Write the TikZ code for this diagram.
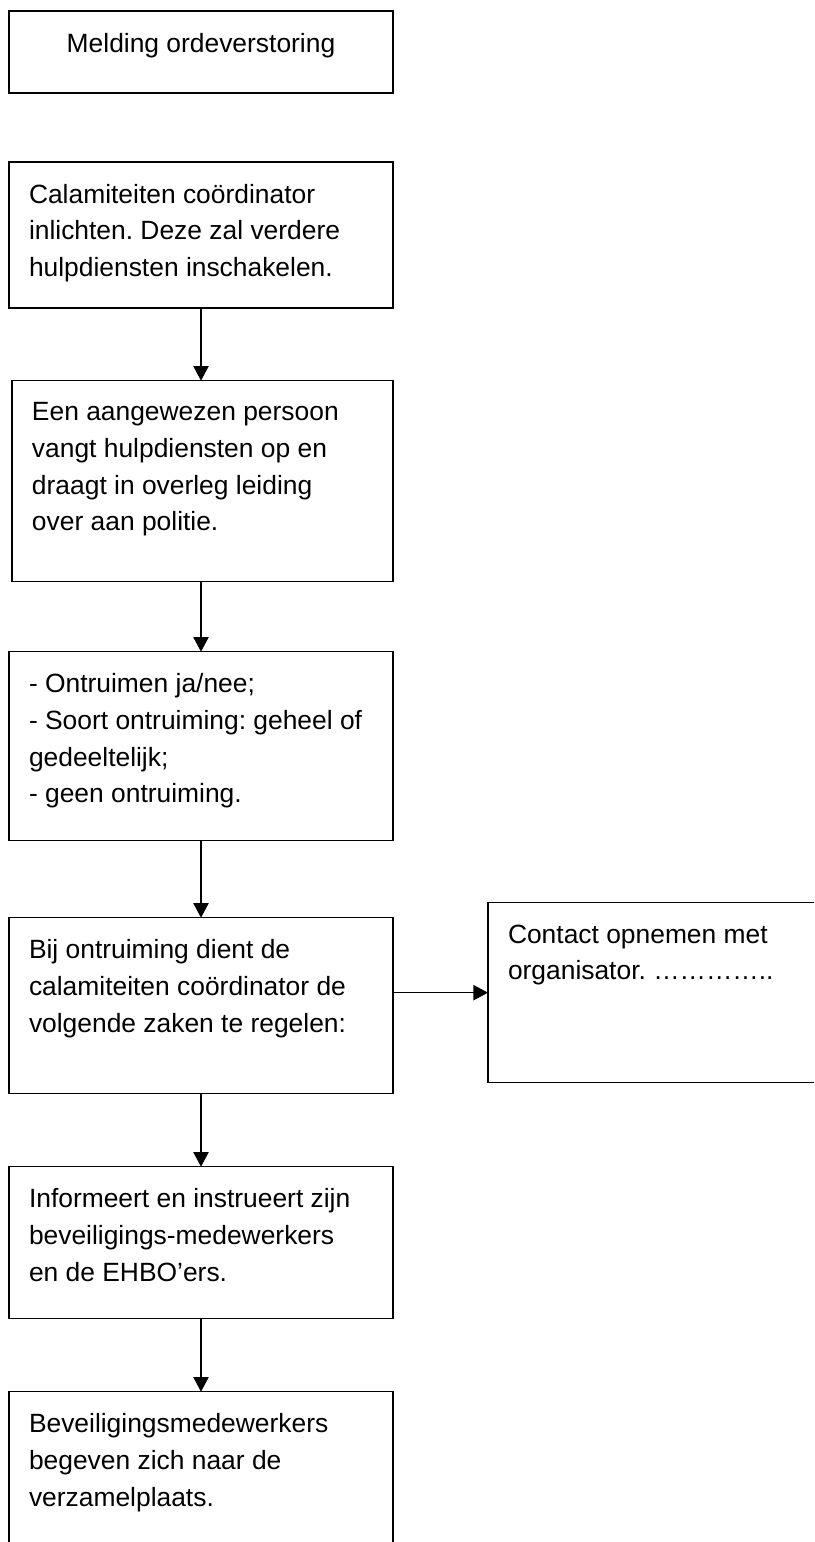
\documentclass[tikz,border=0pt]{standalone}
\usepackage{fontspec}
\setmainfont{Liberation Sans}
\usepackage{tikz}
\usetikzlibrary{arrows.meta,positioning}
\usepackage{xcolor}
\definecolor{lineblack}{RGB}{0,0,0}
\definecolor{pagewhite}{RGB}{255,255,255}
\frenchspacing

\newcommand{\boxfont}{\fontsize{19.8pt}{27.5pt}\selectfont}
% box body: [width], height, text (top aligned, left indent)
\newcommand{\flowtext}[3][288pt]{\parbox[t][#2][t]{#1}{\raggedright\leftskip=15pt #3}}

\begin{document}
\begin{tikzpicture}[
  box/.style={rectangle, draw=lineblack, line width=1.1pt, inner xsep=0pt, inner ysep=16.5pt, outer sep=0pt, font=\boxfont},
  arr/.style={-{Triangle[length=11pt,width=11.5pt]}, line width=1.1pt, draw=lineblack}
]
\path[use as bounding box, fill=pagewhite] (0,0) rectangle (610.5pt,-1156.5pt);
\clip (0,0) rectangle (610.5pt,-1156.5pt);

\node[box, anchor=north west] (meld) at (6.75pt,-8.25pt)
  {\parbox[t][28.5pt][t]{288pt}{\centering Melding ordeverstoring}};
\node[box, below=51.75pt of meld] (coord)
  {\flowtext{76.5pt}{Calamiteiten coördinator\\inlichten. Deze zal verdere\\hulpdiensten inschakelen.}};
\node[box, below=54.5pt of coord, xshift=1.125pt] (opvang)
  {\flowtext[285.75pt]{117.75pt}{Een aangewezen persoon\\vangt hulpdiensten op en\\draagt in overleg leiding\\over aan politie.}};
\node[box, below=52.5pt of opvang, xshift=-1.125pt] (besluit)
  {\flowtext{108.75pt}{- Ontruimen ja/nee;\\- Soort ontruiming: geheel of\\gedeeltelijk;\\- geen ontruiming.}};
\node[box, below=57.75pt of besluit] (ontruim)
  {\flowtext{99pt}{Bij ontruiming dient de\\calamiteiten coördinator de\\volgende zaken te regelen:}};
\node[box, right=71.25pt of ontruim.north east, anchor=north west, yshift=11.25pt] (contact)
  {\flowtext{102pt}{Contact opnemen met\\organisator. …………..}};
\node[box, below=54.75pt of ontruim] (instruct)
  {\flowtext{81pt}{Informeert en instrueert zijn\\beveiligings-medewerkers\\en de EHBO’ers.}};
\node[box, below=54.75pt of instruct] (verzamel)
  {\flowtext{94.5pt}{Beveiligingsmedewerkers\\begeven zich naar de\\verzamelplaats.}};

\draw[arr] (coord.south) -- (coord.south |- opvang.north);
\draw[arr] (opvang.south -| besluit.north) -- (besluit.north);
\draw[arr] (besluit) -- (ontruim);
\draw[arr] (ontruim.east |- contact.west) -- (contact.west);
\draw[arr] (ontruim) -- (instruct);
\draw[arr] (instruct) -- (verzamel);
\end{tikzpicture}
\end{document}
